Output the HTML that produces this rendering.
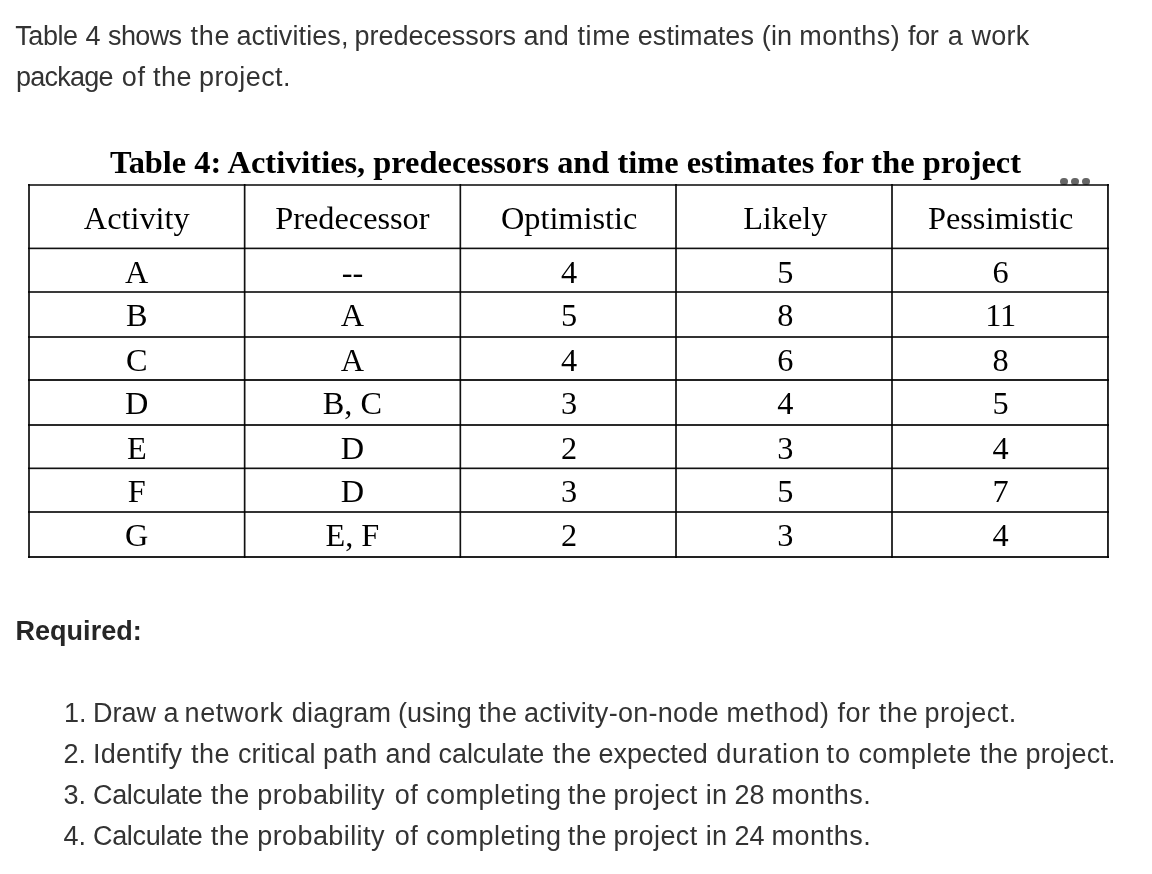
<!DOCTYPE html>
<html>
<head>
<meta charset="utf-8">
<style>
html,body{margin:0;padding:0;background:#fff;}
body{width:1152px;height:874px;position:relative;overflow:hidden;filter:grayscale(1);font-family:"Liberation Sans",sans-serif;color:#333;}
.t{position:absolute;white-space:nowrap;font-size:27px;line-height:1;}
.b{font-weight:bold;color:#262626;}
.st{position:absolute;white-space:nowrap;font-family:"Liberation Serif",serif;font-weight:bold;color:#000;line-height:1;}
.hl,.vl{position:absolute;mix-blend-mode:multiply;}
.cell{position:absolute;text-align:center;width:300px;white-space:nowrap;font-family:"Liberation Serif",serif;color:#000;font-size:32.3px;line-height:1;}
.dot{position:absolute;width:7.5px;height:7.5px;border-radius:50%;background:#666;}
</style>
</head>
<body>
<div class="t" id="l1w0" style="left:15.3px;top:22.95px;letter-spacing:-0.433px;">Table</div>
<div class="t" id="l1w1" style="left:85.6px;top:22.95px;letter-spacing:0.071px;">4</div>
<div class="t" id="l1w2" style="left:108px;top:22.95px;letter-spacing:-0.608px;">shows</div>
<div class="t" id="l1w3" style="left:190.6px;top:22.95px;letter-spacing:0.717px;">the</div>
<div class="t" id="l1w4" style="left:236.5px;top:22.95px;letter-spacing:0.087px;">activities,</div>
<div class="t" id="l1w5" style="left:354.6px;top:22.95px;letter-spacing:-0.053px;">predecessors</div>
<div class="t" id="l1w6" style="left:523.4px;top:22.95px;letter-spacing:0.213px;">and</div>
<div class="t" id="l1w7" style="left:577.5px;top:22.95px;letter-spacing:0.589px;">time</div>
<div class="t" id="l1w8" style="left:637.75px;top:22.95px;letter-spacing:0.076px;">estimates</div>
<div class="t" id="l1w9" style="left:761.8px;top:22.95px;letter-spacing:0.124px;">(in</div>
<div class="t" id="l1w10" style="left:799.3px;top:22.95px;letter-spacing:0.485px;">months)</div>
<div class="t" id="l1w11" style="left:908px;top:22.95px;letter-spacing:-0.358px;">for</div>
<div class="t" id="l1w12" style="left:947.75px;top:22.95px;letter-spacing:0.071px;">a</div>
<div class="t" id="l1w13" style="left:971.6px;top:22.95px;letter-spacing:0.220px;">work</div>
<div class="t" id="l2w0" style="left:15.9px;top:63.85px;letter-spacing:-0.744px;">package</div>
<div class="t" id="l2w1" style="left:121.8px;top:63.85px;letter-spacing:0.679px;">of</div>
<div class="t" id="l2w2" style="left:153px;top:63.85px;letter-spacing:0.507px;">the</div>
<div class="t" id="l2w3" style="left:199px;top:63.85px;letter-spacing:0.423px;">project.</div>
<div class="t b" id="req" style="left:15.5px;top:617.85px;letter-spacing:0.030px;">Required:</div>
<div class="t" id="n1" style="left:64px;top:700.05px;">1.</div>
<div class="t" id="i1w0" style="left:92.95px;top:700.05px;letter-spacing:-0.010px;">Draw</div>
<div class="t" id="i1w1" style="left:163.6px;top:700.05px;letter-spacing:0.200px;">a</div>
<div class="t" id="i1w2" style="left:184.5px;top:700.05px;letter-spacing:0.627px;">network</div>
<div class="t" id="i1w3" style="left:291.7px;top:700.05px;letter-spacing:0.308px;">diagram</div>
<div class="t" id="i1w4" style="left:397.9px;top:700.05px;letter-spacing:0.076px;">(using</div>
<div class="t" id="i1w5" style="left:478.6px;top:700.05px;letter-spacing:0.445px;">the</div>
<div class="t" id="i1w6" style="left:523.9px;top:700.05px;letter-spacing:0.281px;">activity-on-node</div>
<div class="t" id="i1w7" style="left:726.5px;top:700.05px;letter-spacing:0.590px;">method)</div>
<div class="t" id="i1w8" style="left:837.5px;top:700.05px;letter-spacing:0.520px;">for</div>
<div class="t" id="i1w9" style="left:878.75px;top:700.05px;letter-spacing:0.683px;">the</div>
<div class="t" id="i1w10" style="left:924.6px;top:700.05px;letter-spacing:0.437px;">project.</div>
<div class="t" id="n2" style="left:63.4px;top:740.95px;">2.</div>
<div class="t" id="i2w0" style="left:93.05px;top:740.95px;letter-spacing:0.257px;">Identify</div>
<div class="t" id="i2w1" style="left:191px;top:740.95px;letter-spacing:0.466px;">the</div>
<div class="t" id="i2w2" style="left:237.9px;top:740.95px;letter-spacing:0.171px;">critical</div>
<div class="t" id="i2w3" style="left:323px;top:740.95px;letter-spacing:0.606px;">path</div>
<div class="t" id="i2w4" style="left:385.4px;top:740.95px;letter-spacing:0.387px;">and</div>
<div class="t" id="i2w5" style="left:438.6px;top:740.95px;letter-spacing:-0.106px;">calculate</div>
<div class="t" id="i2w6" style="left:552.7px;top:740.95px;letter-spacing:0.516px;">the</div>
<div class="t" id="i2w7" style="left:598.6px;top:740.95px;letter-spacing:-0.059px;">expected</div>
<div class="t" id="i2w8" style="left:716.2px;top:740.95px;letter-spacing:0.856px;">duration</div>
<div class="t" id="i2w9" style="left:826.6px;top:740.95px;letter-spacing:1.000px;">to</div>
<div class="t" id="i2w10" style="left:858.4px;top:740.95px;letter-spacing:0.480px;">complete</div>
<div class="t" id="i2w11" style="left:979.7px;top:740.95px;letter-spacing:0.441px;">the</div>
<div class="t" id="i2w12" style="left:1025.6px;top:740.95px;letter-spacing:0.209px;">project.</div>
<div class="t" id="n3" style="left:63.4px;top:781.85px;">3.</div>
<div class="t" id="i3w0" style="left:93.1px;top:781.85px;letter-spacing:-0.368px;">Calculate</div>
<div class="t" id="i3w1" style="left:210.8px;top:781.85px;letter-spacing:0.530px;">the</div>
<div class="t" id="i3w2" style="left:257.3px;top:781.85px;letter-spacing:0.403px;">probability</div>
<div class="t" id="i3w3" style="left:394.8px;top:781.85px;letter-spacing:0.552px;">of</div>
<div class="t" id="i3w4" style="left:426px;top:781.85px;letter-spacing:0.483px;">completing</div>
<div class="t" id="i3w5" style="left:567.7px;top:781.85px;letter-spacing:0.605px;">the</div>
<div class="t" id="i3w6" style="left:613.6px;top:781.85px;letter-spacing:0.444px;">project</div>
<div class="t" id="i3w7" style="left:705.7px;top:781.85px;letter-spacing:0.260px;">in</div>
<div class="t" id="i3w8" style="left:734.6px;top:781.85px;letter-spacing:-0.148px;">28</div>
<div class="t" id="i3w9" style="left:771.5px;top:781.85px;letter-spacing:0.543px;">months.</div>
<div class="t" id="n4" style="left:63.4px;top:822.75px;">4.</div>
<div class="t" id="i4w0" style="left:93.1px;top:822.75px;letter-spacing:-0.368px;">Calculate</div>
<div class="t" id="i4w1" style="left:210.8px;top:822.75px;letter-spacing:0.530px;">the</div>
<div class="t" id="i4w2" style="left:257.3px;top:822.75px;letter-spacing:0.403px;">probability</div>
<div class="t" id="i4w3" style="left:394.8px;top:822.75px;letter-spacing:0.552px;">of</div>
<div class="t" id="i4w4" style="left:426px;top:822.75px;letter-spacing:0.483px;">completing</div>
<div class="t" id="i4w5" style="left:567.7px;top:822.75px;letter-spacing:0.605px;">the</div>
<div class="t" id="i4w6" style="left:613.6px;top:822.75px;letter-spacing:0.444px;">project</div>
<div class="t" id="i4w7" style="left:705.7px;top:822.75px;letter-spacing:0.260px;">in</div>
<div class="t" id="i4w8" style="left:734.6px;top:822.75px;letter-spacing:-0.098px;">24</div>
<div class="t" id="i4w9" style="left:771.5px;top:822.75px;letter-spacing:0.543px;">months.</div>
<div id="tbl" style="position:absolute;left:0;top:0;width:1152px;height:874px;">
<div class="st" id="title" style="left:110px;top:145.50px;font-size:32.4px;letter-spacing:0px;">Table 4: Activities, predecessors and time estimates for the project</div>
<div class="dot" style="left:1060px;top:177.8px;"></div>
<div class="dot" style="left:1071.3px;top:177.8px;"></div>
<div class="dot" style="left:1082.4px;top:177.8px;"></div>
<div class="hl" style="left:28px;width:1081px;top:184px;height:1px;background:#444;"></div>
<div class="hl" style="left:28px;width:1081px;top:185px;height:1px;background:#444;"></div>
<div class="hl" style="left:28px;width:1081px;top:247px;height:1px;background:#9a9a9a;"></div>
<div class="hl" style="left:28px;width:1081px;top:248px;height:1px;background:#111;"></div>
<div class="hl" style="left:28px;width:1081px;top:249px;height:1px;background:#d0d0d0;"></div>
<div class="hl" style="left:28px;width:1081px;top:291px;height:1px;background:#3a3a3a;"></div>
<div class="hl" style="left:28px;width:1081px;top:292px;height:1px;background:#3a3a3a;"></div>
<div class="hl" style="left:28px;width:1081px;top:336px;height:1px;background:#333;"></div>
<div class="hl" style="left:28px;width:1081px;top:337px;height:1px;background:#333;"></div>
<div class="hl" style="left:28px;width:1081px;top:379px;height:1px;background:#222;"></div>
<div class="hl" style="left:28px;width:1081px;top:380px;height:1px;background:#222;"></div>
<div class="hl" style="left:28px;width:1081px;top:424px;height:1px;background:#2a2a2a;"></div>
<div class="hl" style="left:28px;width:1081px;top:425px;height:1px;background:#2a2a2a;"></div>
<div class="hl" style="left:28px;width:1081px;top:467px;height:1px;background:#8a8a8a;"></div>
<div class="hl" style="left:28px;width:1081px;top:468px;height:1px;background:#111;"></div>
<div class="hl" style="left:28px;width:1081px;top:469px;height:1px;background:#d8d8d8;"></div>
<div class="hl" style="left:28px;width:1081px;top:511px;height:1px;background:#333;"></div>
<div class="hl" style="left:28px;width:1081px;top:512px;height:1px;background:#333;"></div>
<div class="hl" style="left:28px;width:1081px;top:556px;height:1px;background:#222;"></div>
<div class="hl" style="left:28px;width:1081px;top:557px;height:1px;background:#222;"></div>
<div class="vl" style="top:184px;height:374px;left:28px;width:1px;background:#333;"></div>
<div class="vl" style="top:184px;height:374px;left:29px;width:1px;background:#333;"></div>
<div class="vl" style="top:184px;height:374px;left:243px;width:1px;background:#d0d0d0;"></div>
<div class="vl" style="top:184px;height:374px;left:244px;width:1px;background:#111;"></div>
<div class="vl" style="top:184px;height:374px;left:245px;width:1px;background:#8a8a8a;"></div>
<div class="vl" style="top:184px;height:374px;left:459px;width:1px;background:#8a8a8a;"></div>
<div class="vl" style="top:184px;height:374px;left:460px;width:1px;background:#111;"></div>
<div class="vl" style="top:184px;height:374px;left:461px;width:1px;background:#d8d8d8;"></div>
<div class="vl" style="top:184px;height:374px;left:675px;width:1px;background:#333;"></div>
<div class="vl" style="top:184px;height:374px;left:676px;width:1px;background:#333;"></div>
<div class="vl" style="top:184px;height:374px;left:891px;width:1px;background:#333;"></div>
<div class="vl" style="top:184px;height:374px;left:892px;width:1px;background:#333;"></div>
<div class="vl" style="top:184px;height:374px;left:1107px;width:1px;background:#222;"></div>
<div class="vl" style="top:184px;height:374px;left:1108px;width:1px;background:#333;"></div>
<div class="cell" style="left:-13.25px;top:201.70px;">Activity</div>
<div class="cell" style="left:202.40px;top:201.70px;">Predecessor</div>
<div class="cell" style="left:419.15px;top:201.70px;">Optimistic</div>
<div class="cell" style="left:635.30px;top:201.70px;">Likely</div>
<div class="cell" style="left:850.70px;top:201.70px;">Pessimistic</div>
<div class="cell" style="left:-13.25px;top:255.80px;">A</div>
<div class="cell" style="left:202.40px;top:255.80px;">--</div>
<div class="cell" style="left:419.15px;top:255.80px;">4</div>
<div class="cell" style="left:635.30px;top:255.80px;">5</div>
<div class="cell" style="left:850.70px;top:255.80px;">6</div>
<div class="cell" style="left:-13.25px;top:298.80px;">B</div>
<div class="cell" style="left:202.40px;top:298.80px;">A</div>
<div class="cell" style="left:419.15px;top:298.80px;">5</div>
<div class="cell" style="left:635.30px;top:298.80px;">8</div>
<div class="cell" style="left:850.70px;top:298.80px;">11</div>
<div class="cell" style="left:-13.25px;top:343.60px;">C</div>
<div class="cell" style="left:202.40px;top:343.60px;">A</div>
<div class="cell" style="left:419.15px;top:343.60px;">4</div>
<div class="cell" style="left:635.30px;top:343.60px;">6</div>
<div class="cell" style="left:850.70px;top:343.60px;">8</div>
<div class="cell" style="left:-13.25px;top:386.80px;">D</div>
<div class="cell" style="left:202.40px;top:386.80px;">B, C</div>
<div class="cell" style="left:419.15px;top:386.80px;">3</div>
<div class="cell" style="left:635.30px;top:386.80px;">4</div>
<div class="cell" style="left:850.70px;top:386.80px;">5</div>
<div class="cell" style="left:-13.25px;top:431.50px;">E</div>
<div class="cell" style="left:202.40px;top:431.50px;">D</div>
<div class="cell" style="left:419.15px;top:431.50px;">2</div>
<div class="cell" style="left:635.30px;top:431.50px;">3</div>
<div class="cell" style="left:850.70px;top:431.50px;">4</div>
<div class="cell" style="left:-13.25px;top:475.30px;">F</div>
<div class="cell" style="left:202.40px;top:475.30px;">D</div>
<div class="cell" style="left:419.15px;top:475.30px;">3</div>
<div class="cell" style="left:635.30px;top:475.30px;">5</div>
<div class="cell" style="left:850.70px;top:475.30px;">7</div>
<div class="cell" style="left:-13.25px;top:518.80px;">G</div>
<div class="cell" style="left:202.40px;top:518.80px;">E, F</div>
<div class="cell" style="left:419.15px;top:518.80px;">2</div>
<div class="cell" style="left:635.30px;top:518.80px;">3</div>
<div class="cell" style="left:850.70px;top:518.80px;">4</div>
</div>
</body>
</html>
